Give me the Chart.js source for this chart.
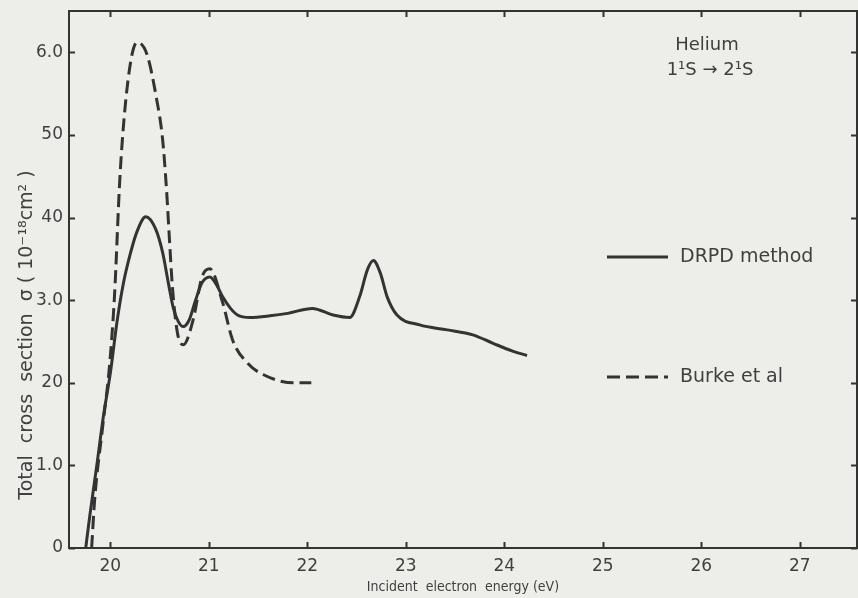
<!DOCTYPE html>
<html>
<head>
<meta charset="utf-8">
<title>Helium 1¹S → 2¹S total cross section</title>
<script src="https://cdn.jsdelivr.net/npm/chart.js@4.4.0/dist/chart.umd.min.js"></script>
<style>
  html, body { margin: 0; padding: 0; background: #edede9; }
  #wrap { width: 858px; height: 598px; }
</style>
</head>
<body>
<div id="wrap"><canvas id="crossSection" width="858" height="598"></canvas></div>
<script>
// DRPD method (solid line) - energy in eV, sigma in 10^-18 cm^2
var drpdEnergy = [19.75, 19.79, 19.86, 19.93, 20.00, 20.07, 20.13, 20.20, 20.27, 20.36,
                  20.46, 20.53, 20.59, 20.64, 20.69, 20.74, 20.80, 20.86, 20.93, 21.01,
                  21.08, 21.14, 21.22, 21.29, 21.42, 21.62, 21.80, 22.05, 22.26, 22.43,
                  22.53, 22.61, 22.67, 22.74, 22.81, 22.91, 23.14, 23.42, 23.68, 23.88,
                  24.09, 24.23];
var drpdSigma = [0, 3.8, 9.8, 16.0, 21.2, 27.6, 31.9, 35.5, 38.3, 40.1,
                 38.6, 35.8, 32.0, 29.0, 27.4, 26.8, 27.6, 29.8, 32.1, 32.8,
                 31.8, 30.4, 29.0, 28.2, 27.9, 28.1, 28.4, 29.0, 28.2, 27.9,
                 30.4, 33.7, 34.8, 33.3, 30.4, 28.2, 27.0, 26.4, 25.8, 24.8,
                 23.8, 23.3];

// Burke et al (dashed line)
var burkeEnergy = [19.81, 19.84, 19.92, 19.99, 20.04, 20.10, 20.18, 20.27, 20.37, 20.47,
                   20.53, 20.57, 20.60, 20.63, 20.68, 20.74, 20.84, 20.93, 21.01, 21.14,
                   21.24, 21.39, 21.55, 21.86, 22.04];
var burkeSigma = [0, 5.8, 14.5, 21.9, 30.1, 45.5, 56.7, 61.2, 59.8, 54.3,
                  49.5, 43.4, 37.3, 31.6, 26.1, 24.6, 27.6, 32.8, 33.8, 29.7,
                  25.2, 22.4, 21.0, 20.0, 20.0];

var energyTicks = [20, 21, 22, 23, 24, 25, 26, 27];
var sigmaTicks = [0, 10, 20, 30, 40, 50, 60];
var sigmaTickLabels = ['0', '1.0', '20', '3.0', '40', '50', '6.0'];

var ink = '#333333';
var textInk = '#3f3f3f';
var paper = '#edede9';

function toPoints(xs, ys) {
  return xs.map(function (x, i) { return { x: x, y: ys[i] }; });
}

// paper background
var paperPlugin = {
  id: 'paper',
  beforeDraw: function (chart) {
    var c = chart.ctx;
    c.save();
    c.fillStyle = paper;
    c.fillRect(0, 0, chart.width, chart.height);
    c.restore();
  }
};

// box around the plot with inward tick marks on all four sides
var framePlugin = {
  id: 'frame',
  afterDatasetsDraw: function (chart) {
    var c = chart.ctx, a = chart.chartArea;
    var xs = chart.scales.x, ys = chart.scales.y;
    var len = 6;
    c.save();
    c.strokeStyle = ink;
    c.lineWidth = 2;
    c.strokeRect(a.left, a.top, a.right - a.left, a.bottom - a.top);
    c.beginPath();
    xs.ticks.forEach(function (t) {
      var px = Math.round(xs.getPixelForValue(t.value)) + 0.5;
      c.moveTo(px, a.bottom); c.lineTo(px, a.bottom - len);
      c.moveTo(px, a.top); c.lineTo(px, a.top + len);
    });
    ys.ticks.forEach(function (t) {
      var py = Math.round(ys.getPixelForValue(t.value)) + 0.5;
      c.moveTo(a.left, py); c.lineTo(a.left + len, py);
      c.moveTo(a.right, py); c.lineTo(a.right - len, py);
    });
    c.stroke();
    c.restore();
  }
};

// y title, legend and the "Helium" note
var notesPlugin = {
  id: 'notes',
  afterDraw: function (chart) {
    var c = chart.ctx;
    c.save();
    c.fillStyle = textInk;

    // y axis title (sits below centre in the original)
    c.save();
    c.translate(27, 335);
    c.rotate(-Math.PI / 2);
    c.font = '19px "DejaVu Sans"';
    c.textAlign = 'center';
    c.textBaseline = 'middle';
    c.fillText('Total  cross  section  σ ( 10\u207B\u00B9\u2078cm\u00B2 )', 0, 0);
    c.restore();

    // Helium 1¹S -> 2¹S
    c.font = '18px "DejaVu Sans"';
    c.textAlign = 'center';
    c.textBaseline = 'middle';
    c.fillText('Helium', 707, 45);
    c.fillText('1\u00B9S \u2192 2\u00B9S', 710, 70);

    // legend
    var rows = [257, 377];
    chart.data.datasets.forEach(function (ds, i) {
      var y = rows[i];
      c.strokeStyle = ds.borderColor;
      c.lineWidth = ds.borderWidth;
      c.setLineDash(ds.borderDash || []);
      c.beginPath();
      c.moveTo(607, y);
      c.lineTo(668, y);
      c.stroke();
      c.setLineDash([]);
      c.font = '19px "DejaVu Sans"';
      c.textAlign = 'left';
      c.textBaseline = 'middle';
      c.fillText(ds.label, 680, y);
    });
    c.restore();
  }
};

var tickFont = { family: 'DejaVu Sans', size: 17 };

var ctx = document.getElementById('crossSection').getContext('2d');
var chart = new Chart(ctx, {
  type: 'line',
  data: {
    datasets: [{
      label: 'DRPD method',
      data: toPoints(drpdEnergy, drpdSigma),
      borderColor: ink,
      borderWidth: 3,
      pointRadius: 0,
      fill: false,
      cubicInterpolationMode: 'monotone'
    }, {
      label: 'Burke et al',
      data: toPoints(burkeEnergy, burkeSigma),
      borderColor: ink,
      borderWidth: 3,
      borderDash: [13, 6],
      pointRadius: 0,
      fill: false,
      cubicInterpolationMode: 'monotone'
    }]
  },
  options: {
    responsive: false,
    animation: false,
    devicePixelRatio: 1,
    layout: { padding: { top: 11, right: 1, left: 0, bottom: 0 } },
    plugins: {
      legend: { display: false },
      tooltip: { enabled: false }
    },
    scales: {
      x: {
        type: 'linear',
        min: 19.58,
        max: 27.58,
        afterBuildTicks: function (axis) {
          axis.ticks = energyTicks.map(function (v) { return { value: v }; });
        },
        afterFit: function (axis) {
          axis.height = 50;
          axis.paddingLeft = 0;
          axis.paddingRight = 0;
        },
        grid: { display: false, drawTicks: false },
        border: { display: false },
        ticks: {
          font: tickFont,
          color: textInk,
          padding: 8,
          maxRotation: 0,
          callback: function (v) { return String(v); }
        },
        title: {
          display: true,
          text: 'Incident  electron  energy (eV)',
          color: textInk,
          font: { family: 'DejaVu Sans Condensed, DejaVu Sans', size: 14 },
          padding: { top: 0, bottom: 2 }
        }
      },
      y: {
        type: 'linear',
        min: 0,
        max: 65,
        afterBuildTicks: function (axis) {
          axis.ticks = sigmaTicks.map(function (v) { return { value: v }; });
        },
        afterFit: function (axis) {
          axis.width = 69;
          axis.paddingTop = 0;
          axis.paddingBottom = 0;
        },
        grid: { display: false, drawTicks: false },
        border: { display: false },
        ticks: {
          font: tickFont,
          color: textInk,
          padding: 6,
          callback: function (v) {
            var i = sigmaTicks.indexOf(v);
            return i >= 0 ? sigmaTickLabels[i] : '';
          }
        }
      }
    }
  },
  plugins: [paperPlugin, framePlugin, notesPlugin]
});
</script>
</body>
</html>
